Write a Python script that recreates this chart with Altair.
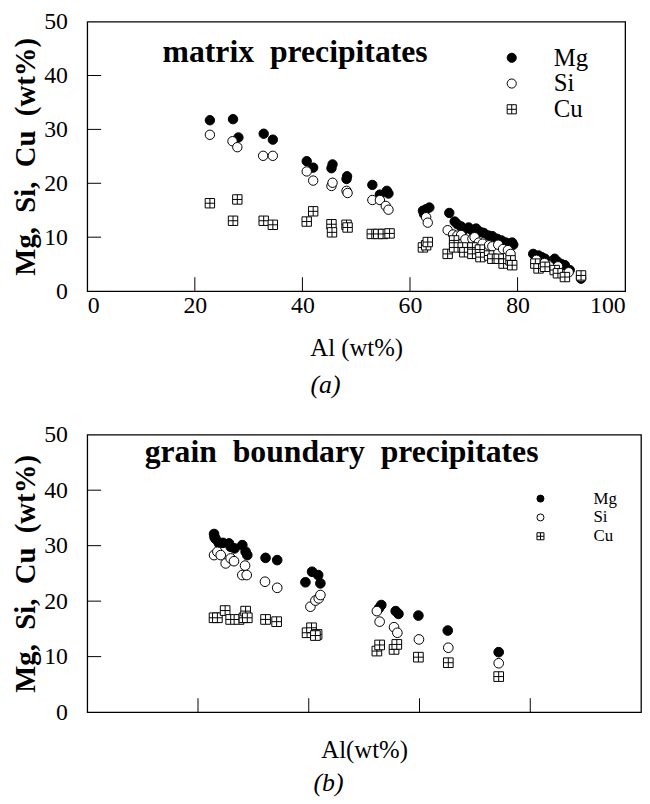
import altair as alt
import pandas as pd

# ---------------- data: (a) matrix precipitates ----------------
A_MG_X = [22.8, 27.1, 28.1, 32.8, 34.5, 40.8, 42.0, 45.4, 45.6, 48.3, 48.2, 53.0, 54.4, 55.7, 56.0,
          62.4, 62.6, 63.0, 63.6, 67.3, 68.3, 68.8, 69.5, 70.2, 70.9, 71.6, 72.3, 73.0, 73.7, 74.6,
          75.3, 76.2, 77.0, 77.8, 78.4, 79.0, 79.2, 82.9, 83.9, 84.5, 85.1, 86.9, 87.5, 88.2, 88.8, 89.7, 91.8]
A_MG_Y = [31.7, 31.9, 28.5, 29.2, 28.1, 24.1, 22.9, 22.8, 23.5, 21.3, 20.8, 19.7, 17.9, 18.6, 18.1,
          14.9, 14.3, 15.2, 15.5, 14.5, 12.9, 12.4, 12.0, 11.5, 11.8, 11.2, 11.6, 11.0, 10.8, 10.3,
          10.2, 9.7, 9.4, 9.0, 8.8, 9.0, 8.6, 6.9, 6.6, 6.3, 6.0, 6.0, 5.4, 5.0, 4.8, 3.9, 2.3]
A_SI_X = [22.8, 27.0, 27.9, 32.7, 34.5, 40.8, 42.0, 45.4, 45.6, 48.2, 48.4, 53.0, 54.4, 55.5, 56.0,
          63.0, 63.3, 67.0, 68.0, 68.8, 69.5, 70.3, 71.6, 72.0, 72.8, 73.5, 74.7, 75.3, 76.4, 77.3,
          78.2, 78.7, 83.5, 85.0, 87.5, 89.5, 91.8]
A_SI_Y = [29.0, 27.8, 26.7, 25.1, 25.1, 22.2, 20.5, 19.5, 20.1, 18.6, 18.2, 16.9, 16.9, 15.8, 15.1,
          13.7, 12.7, 11.3, 10.5, 10.3, 10.4, 9.6, 9.7, 10.0, 9.0, 8.8, 8.5, 8.3, 8.6, 7.8,
          7.6, 6.9, 5.8, 5.2, 4.6, 3.5, 2.6]
A_CU_X = [22.8, 27.1, 27.9, 32.8, 34.5, 40.8, 42.0, 45.4, 45.5, 48.2, 48.4, 52.9, 54.1, 55.0, 56.2,
          62.4, 63.0, 63.3, 67.0, 68.2, 68.2, 69.8, 70.1, 71.6, 71.6, 73.0, 73.1, 74.7, 75.3, 76.5,
          77.4, 78.7, 79.0, 83.3, 83.9, 85.1, 86.9, 87.5, 88.8, 91.8]
A_CU_Y = [16.3, 13.05, 17.0, 13.05, 12.3, 12.9, 14.8, 12.4, 10.9, 12.3, 11.8, 10.6, 10.6, 10.6, 10.7,
          8.1, 8.5, 9.1, 6.9, 9.4, 8.1, 8.1, 7.2, 8.1, 6.9, 7.7, 6.3, 6.6, 6.0, 6.0,
          5.1, 5.7, 4.8, 5.1, 4.2, 4.5, 3.9, 3.3, 2.6, 2.9]

# ---------------- data: (b) grain boundary precipitates ----------------
B_MG_X = [22.9, 23.0, 23.2, 23.8, 24.5, 25.6, 25.9, 26.6, 28.0, 28.6, 28.9, 32.2, 34.3,
          39.4, 40.6, 41.7, 42.1, 52.7, 53.1, 55.7, 56.2, 59.8, 65.1, 74.3]
B_MG_Y = [32.1, 31.5, 31.2, 30.4, 30.5, 30.4, 29.8, 29.5, 30.1, 28.9, 28.3, 27.8, 27.4,
          23.4, 25.3, 24.7, 23.2, 18.75, 19.3, 18.2, 17.7, 17.4, 14.7, 10.8]
B_SI_X = [22.9, 23.5, 24.1, 25.0, 25.9, 26.5, 28.5, 28.0, 28.8, 32.1, 34.3,
          40.3, 41.2, 41.8, 42.1, 52.3, 52.8, 55.4, 56.0, 59.9, 65.2, 74.3]
B_SI_Y = [28.3, 28.9, 28.3, 26.8, 27.7, 27.2, 26.4, 24.7, 24.7, 23.5, 22.4,
          19.0, 20.1, 20.5, 21.1, 18.2, 16.3, 15.3, 14.3, 13.1, 11.6, 8.8]
B_CU_X = [22.9, 23.5, 24.9, 25.9, 27.4, 28.3, 28.6, 28.9, 32.2, 34.2,
          39.7, 40.5, 41.5, 41.2, 52.3, 52.8, 55.4, 55.9, 59.8, 65.2, 74.3]
B_CU_Y = [17.0, 17.0, 18.3, 16.7, 16.7, 17.0, 18.2, 17.0, 16.7, 16.3,
          14.3, 15.2, 14.0, 13.8, 11.0, 12.1, 11.3, 12.2, 9.9, 8.9, 6.4]

SERIES = ["Mg", "Si", "Cu"]
Y_LABEL_VALUES = [0, 10, 20, 30, 40, 50]
X_LABEL_VALUES = [0, 20, 40, 60, 80, 100]
Y_TICK_VALUES = [10, 20, 30, 40]
X_TICK_VALUES = [20, 40, 60, 80]

NB = "\u00a0"
Y_TITLE = f"Mg,{NB} Si,{NB} Cu{NB} (wt%)"
TITLE_A = f"matrix{NB} precipitates"
TITLE_B = f"grain{NB} boundary{NB} precipitates"

FONT = "Liberation Serif"
CU_PATH = "M-1,-1H1V1H-1Z M0,-1V1 M-1,0H1"
TICK_LEN = 14


def build_df(mgx, mgy, six, siy, cux, cuy):
    rows = []
    for k, (el, xs, ys) in enumerate([("Mg", mgx, mgy), ("Si", six, siy), ("Cu", cux, cuy)]):
        for x, y in zip(xs, ys):
            rows.append({"al": x, "val": y, "el": el, "ord": k})
    return pd.DataFrame(rows)


def panel(df, W, H, label, x_labels, x_title, x_title_pad, caption, cap_dx, cap_offset,
          leg_x, leg_y, leg_font, leg_sym, leg_row_pad, leg_label_off,
          label_dx, label_dy, label_size, pt_size):
    xscale = alt.Scale(domain=[0, 100], nice=False, zero=False)
    yscale = alt.Scale(domain=[0, 50], nice=False)
    xaxis = alt.Axis(values=X_LABEL_VALUES, labels=x_labels, ticks=False, domain=False,
                     grid=False, title=x_title, labelFont=FONT, labelFontSize=24,
                     labelColor="black", labelPadding=3, titleFont=FONT,
                     titleFontSize=25, titleFontWeight="normal", titleColor="black",
                     titlePadding=x_title_pad)
    yaxis = alt.Axis(values=Y_LABEL_VALUES, ticks=False, domain=False, grid=False,
                     title=Y_TITLE, labelFont=FONT, labelFontSize=24,
                     labelColor="black", labelPadding=20, titleFont=FONT,
                     titleFontSize=29, titleFontWeight="bold", titleColor="black",
                     titlePadding=3)
    legend = alt.Legend(title=None, orient="none", legendX=leg_x, legendY=leg_y,
                        labelFont=FONT, labelFontSize=leg_font, labelColor="black",
                        symbolSize=leg_sym, symbolStrokeWidth=1,
                        rowPadding=leg_row_pad, labelOffset=leg_label_off, padding=0)
    pts = alt.Chart(df).mark_point(filled=False, opacity=1, strokeWidth=1).encode(
        x=alt.X("al:Q", scale=xscale, axis=xaxis),
        y=alt.Y("val:Q", scale=yscale, axis=yaxis),
        shape=alt.Shape("el:N", scale=alt.Scale(domain=SERIES, range=["circle", "circle", CU_PATH]),
                        legend=legend),
        fill=alt.Fill("el:N", scale=alt.Scale(domain=SERIES, range=["black", "white", "white"]),
                      legend=legend),
        stroke=alt.Stroke("el:N", scale=alt.Scale(domain=SERIES, range=["black", "black", "black"]),
                          legend=legend),
        size=alt.value(pt_size),
        order=alt.Order("ord:Q"),
    )
    yt = alt.Chart(pd.DataFrame({"val": Y_TICK_VALUES})).mark_rule(color="black", strokeWidth=1).encode(
        y=alt.Y("val:Q", scale=yscale, axis=yaxis), x=alt.value(0), x2=alt.value(TICK_LEN))
    xt = alt.Chart(pd.DataFrame({"al": X_TICK_VALUES})).mark_rule(color="black", strokeWidth=1).encode(
        x=alt.X("al:Q", scale=xscale, axis=xaxis), y=alt.value(H), y2=alt.value(H - TICK_LEN))
    txt = alt.Chart(pd.DataFrame({"label": [label]})).mark_text(
        font=FONT, fontSize=label_size, fontWeight="bold", align="left", baseline="middle",
        color="black").encode(text="label:N", x=alt.value(label_dx), y=alt.value(label_dy))
    return alt.layer(pts, yt, xt, txt).properties(
        width=W, height=H,
        title=alt.TitleParams(caption, orient="bottom", anchor="middle", frame="group", font=FONT,
                              fontSize=26, fontStyle="italic", fontWeight="normal",
                              color="black", dx=cap_dx, offset=cap_offset))


df_a = build_df(A_MG_X, A_MG_Y, A_SI_X, A_SI_Y, A_CU_X, A_CU_Y)
df_b = build_df(B_MG_X, B_MG_Y, B_SI_X, B_SI_Y, B_CU_X, B_CU_Y)

top = panel(df_a, 543, 272, TITLE_A, True, "Al (wt%)", 18, "(a)", -31, 12,
            416, 24, 25, 85, 0, 30, 76, 31, 32, 90)
bottom = panel(df_b, 559, 280, TITLE_B, False, "Al(wt%)", 26, "(b)", -36, 8,
               449, 56, 17, 50, 1, 45, 58, 18, 32, 95)

chart = alt.vconcat(top, bottom, spacing=23).properties(
    padding={"left": 3, "top": -3, "right": 0, "bottom": 0}
).resolve_scale(
    shape="independent", fill="independent", stroke="independent"
).resolve_legend(
    shape="independent", fill="independent", stroke="independent"
).configure_view(stroke="black", strokeWidth=1.3).configure_axis(grid=False)

chart.save("out.html", embed_options={"renderer": "svg", "actions": False})
